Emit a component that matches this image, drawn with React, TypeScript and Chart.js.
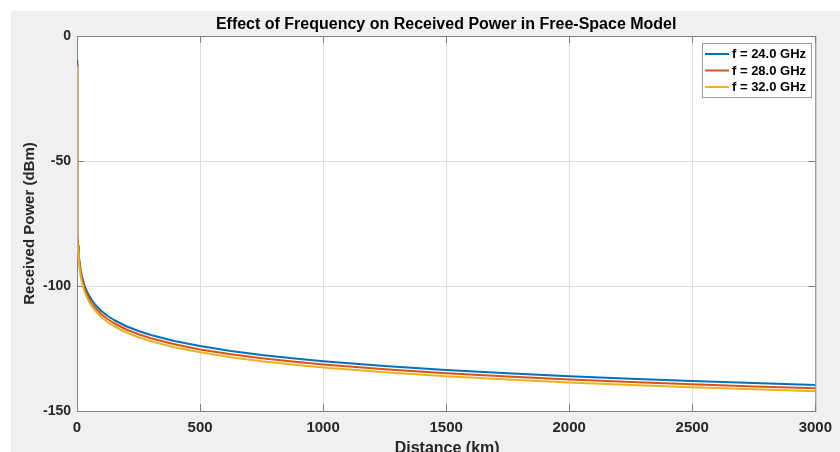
import { useEffect, useRef } from "react";
import { Chart, registerables } from "chart.js";

Chart.register(...registerables);

// Distance from transmitter (km)
const distanceKm = [
  0.001, 0.01, 0.1, 1, 2, 3, 5, 7, 10, 15, 20, 30, 40, 50, 60, 75, 100, 125, 150,
  200, 250, 300, 400, 500, 625, 750, 875, 1000, 1250, 1500, 1750, 2000, 2250, 2500,
  2750, 3000,
];

// Received power (dBm) for each carrier frequency
const power24GHz = [
  -10.1, -30.1, -50.1, -70.1, -76.1, -79.6, -84.0, -87.0, -90.1, -93.6, -96.1,
  -99.6, -102.1, -104.0, -105.6, -107.6, -110.1, -112.0, -113.6, -116.1, -118.0,
  -119.6, -122.1, -124.0, -126.0, -127.6, -128.9, -130.1, -132.0, -133.6, -134.9,
  -136.1, -137.1, -138.0, -138.8, -139.6,
];
const power28GHz = [
  -11.4, -31.4, -51.4, -71.4, -77.4, -80.9, -85.4, -88.3, -91.4, -94.9, -97.4,
  -100.9, -103.4, -105.4, -107.0, -108.9, -111.4, -113.3, -114.9, -117.4, -119.3,
  -120.9, -123.4, -125.4, -127.3, -128.9, -130.2, -131.4, -133.3, -134.9, -136.2,
  -137.4, -138.4, -139.3, -140.2, -140.9,
];
const power32GHz = [
  -12.6, -32.6, -52.6, -72.6, -78.6, -82.1, -86.5, -89.5, -92.6, -96.1, -98.6,
  -102.1, -104.6, -106.5, -108.1, -110.1, -112.6, -114.5, -116.1, -118.6, -120.5,
  -122.1, -124.6, -126.5, -128.5, -130.1, -131.4, -132.6, -134.5, -136.1, -137.4,
  -138.6, -139.6, -140.5, -141.3, -142.1,
];

const seriesLabels = ["f = 24.0 GHz", "f = 28.0 GHz", "f = 32.0 GHz"];
const seriesValues = [power24GHz, power28GHz, power32GHz];
const seriesColors = ["#0072BD", "#D95319", "#EDB120"];

const xTickValues = [0, 500, 1000, 1500, 2000, 2500, 3000];
const yTickValues = [-150, -100, -50, 0];

const titleText = "Effect of Frequency on Received Power in Free-Space Model";
const xAxisTitle = "Distance (km)";
const yAxisTitle = "Received Power (dBm)";

const FONT = '"Liberation Sans", Arial, Helvetica, sans-serif';
const AXIS_COLOR = "#808080";
const TEXT_COLOR = "#262626";

const framePlugin = {
  id: "axesFrame",
  beforeDraw(chart: any) {
    const { ctx, chartArea: a } = chart;
    ctx.save();
    ctx.fillStyle = "#ffffff";
    ctx.fillRect(a.left, a.top, a.right - a.left, a.bottom - a.top);
    ctx.restore();
  },
  beforeDatasetsDraw(chart: any) {
    const { ctx, chartArea: a, scales } = chart;
    const x = scales.x;
    const y = scales.y;
    ctx.save();
    ctx.strokeStyle = AXIS_COLOR;
    ctx.lineWidth = 1;
    ctx.strokeRect(a.left + 0.5, a.top + 0.5, a.right - a.left, a.bottom - a.top);
    const len = 7;
    ctx.beginPath();
    for (const v of xTickValues) {
      const px = Math.round(x.getPixelForValue(v)) + 0.5;
      ctx.moveTo(px, a.bottom);
      ctx.lineTo(px, a.bottom - len);
      ctx.moveTo(px, a.top);
      ctx.lineTo(px, a.top + len);
    }
    for (const v of yTickValues) {
      const py = Math.round(y.getPixelForValue(v)) + 0.5;
      ctx.moveTo(a.left, py);
      ctx.lineTo(a.left + len, py);
      ctx.moveTo(a.right, py);
      ctx.lineTo(a.right - len, py);
    }
    ctx.stroke();
    ctx.restore();
  },
  afterDraw(chart: any) {
    const { ctx, chartArea: a } = chart;
    const cx = (a.left + a.right) / 2;
    const cy = (a.top + a.bottom) / 2;
    ctx.save();

    // title
    ctx.fillStyle = "#000000";
    ctx.font = `bold 16px ${FONT}`;
    ctx.textAlign = "center";
    ctx.textBaseline = "alphabetic";
    ctx.fillText(titleText, cx, 18);

    // axis titles
    ctx.fillStyle = TEXT_COLOR;
    ctx.font = `bold 16px ${FONT}`;
    ctx.fillText(xAxisTitle, cx + 1, 442);
    ctx.font = `bold 15px ${FONT}`;
    ctx.save();
    ctx.translate(23, cy);
    ctx.rotate(-Math.PI / 2);
    ctx.fillText(yAxisTitle, 0, 0);
    ctx.restore();

    // legend box
    const bx = 691;
    const by = 32;
    const bw = 109;
    const bh = 54;
    ctx.fillStyle = "#ffffff";
    ctx.fillRect(bx, by, bw, bh);
    ctx.strokeStyle = "#9a9a9a";
    ctx.lineWidth = 1;
    ctx.strokeRect(bx + 0.5, by + 0.5, bw, bh);
    ctx.font = `bold 13px ${FONT}`;
    ctx.textAlign = "left";
    ctx.textBaseline = "middle";
    const rows = [43, 59.5, 76];
    seriesLabels.forEach((label, i) => {
      const ry = rows[i];
      ctx.strokeStyle = seriesColors[i];
      ctx.lineWidth = 2;
      ctx.beginPath();
      ctx.moveTo(694, ry);
      ctx.lineTo(718, ry);
      ctx.stroke();
      ctx.fillStyle = "#000000";
      ctx.fillText(label, 721, ry + 0.5);
    });
    ctx.restore();
  },
};

export default function App() {
  const canvasRef = useRef<HTMLCanvasElement | null>(null);

  useEffect(() => {
    const canvas = canvasRef.current;
    if (!canvas) return;
    const chart = new Chart(canvas, {
      type: "line",
      data: {
        datasets: seriesValues.map((vals, i) => ({
          label: seriesLabels[i],
          data: distanceKm.map((d, j) => ({ x: d, y: vals[j] })),
          borderColor: seriesColors[i],
          backgroundColor: seriesColors[i],
          borderWidth: 2,
          pointRadius: 0,
          fill: false,
          tension: 0,
          borderJoinStyle: "round" as const,
          order: seriesValues.length - i,
        })),
      },
      options: {
        responsive: false,
        animation: false,
        events: [],
        layout: { padding: { top: 25, right: 23, bottom: 0, left: 0 } },
        plugins: {
          legend: { display: false },
          title: { display: false },
          tooltip: { enabled: false },
        },
        scales: {
          x: {
            type: "linear",
            min: 0,
            max: 3000,
            afterBuildTicks: (scale: any) => {
              scale.ticks = xTickValues.map((v) => ({ value: v }));
            },
            afterFit: (scale: any) => {
              scale.height = 41;
            },
            grid: { color: "#dfdfdf", drawTicks: false },
            border: { display: false },
            ticks: {
              padding: 8,
              color: TEXT_COLOR,
              font: { family: FONT, size: 15, weight: "bold" },
              maxRotation: 0,
              callback: (v: any) => String(v),
            },
          },
          y: {
            type: "linear",
            min: -150,
            max: 0,
            afterBuildTicks: (scale: any) => {
              scale.ticks = yTickValues.map((v) => ({ value: v }));
            },
            afterFit: (scale: any) => {
              scale.width = 66;
            },
            grid: { color: "#dfdfdf", drawTicks: false },
            border: { display: false },
            ticks: {
              padding: 6,
              color: TEXT_COLOR,
              font: { family: FONT, size: 14, weight: "bold" },
              callback: (v: any) => String(v),
            },
          },
        },
      },
      plugins: [framePlugin],
    });
    return () => chart.destroy();
  }, []);

  return (
    <div
      style={{
        position: "fixed",
        left: 0,
        top: 0,
        width: 840,
        height: 452,
        background: "#ffffff",
        overflow: "hidden",
      }}
    >
      <div
        style={{
          position: "absolute",
          left: 11,
          top: 11,
          width: 829,
          height: 441,
          background: "#f0f0f0",
        }}
      >
        <canvas ref={canvasRef} width={829} height={441} style={{ display: "block" }} />
      </div>
    </div>
  );
}
